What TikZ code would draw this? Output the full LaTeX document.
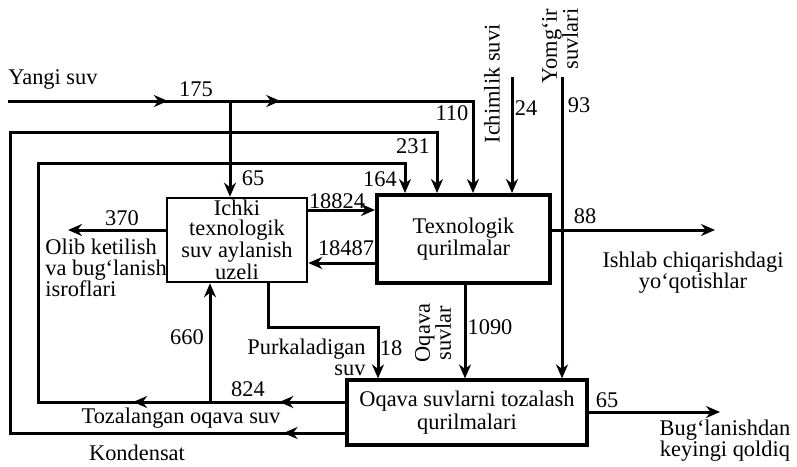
\documentclass[tikz,border=0pt]{standalone}
\usepackage{fontspec}
\setmainfont{Liberation Serif}
\usetikzlibrary{arrows.meta,decorations.markings}

\begin{document}
\begin{tikzpicture}[x=0.5pt,y=-0.5pt,
  b/.style={draw,line width=1.3pt,align=center,inner sep=0pt,font=\fontsize{11.2}{9.8}\selectfont},
  t/.style={inner sep=0pt,font=\fontsize{11.2}{10.5}\selectfont},
  ln/.style={line width=1.5pt},
  arr/.style={-{Stealth[length=7pt,width=6pt]},line width=1.5pt},
  mid/.style={postaction={decorate,decoration={markings,mark=at position #1 with {\arrow{Stealth[length=7pt,width=6pt]}}}}}
]
\useasboundingbox (0,0) rectangle (797,466);
\node[b,minimum width=70pt,minimum height=42pt] (ichki) at (237,240) {Ichki\\texnologik\\suv aylanish\\uzeli};
\node[b,line width=2pt,minimum width=86.5pt,minimum height=44pt] (texn) at (463.5,239) {Texnologik\\qurilmalar};
\node[b,line width=1.6pt,minimum width=120pt,minimum height=32.5pt] (oqava) at (467,412.5) {Oqava suvlarni tozalash\\qurilmalari};
\coordinate (ys) at (8,101);\coordinate (j175) at (230,101);\coordinate (c110) at (473,101);
\coordinate (k1) at (10,433);\coordinate (k2) at (10,132);\coordinate (k3) at (437,132);
\coordinate (t1) at (38,402);\coordinate (t2) at (38,163);\coordinate (t3) at (405,163);
\coordinate (c660) at (210,402);\coordinate (p1) at (268,327);\coordinate (p2) at (378,327);
\coordinate (c1090) at (465,330);\coordinate (rain) at (562,77);\coordinate (drink) at (512,77);
\coordinate (e1) at (0,210);\coordinate (e2) at (0,263);
\coordinate (out370) at (68,230);\coordinate (out88) at (715,230);\coordinate (out65) at (720,412);
\draw[ln,mid=0.72] (ys) -- (j175);
\draw[arr,mid=0.15] (j175) -- (c110) -- (c110 |- texn.north);
\draw[arr] (j175) -- (j175 |- ichki.north);
\draw[arr,mid=0.055] (oqava.west |- k1) -- (k1) -- (k2) -- (k3) -- (k3 |- texn.north);
\draw[arr,mid=0.07,mid=0.225] (oqava.west |- t1) -- (t1) -- (t2) -- (t3) -- (t3 |- texn.north);
\draw[arr] (c660) -- (c660 |- ichki.south);
\draw[arr] (ichki.south -| p1) -- (p1) -- (p2) -- (p2 |- oqava.north);
\draw[arr] (texn.south -| c1090) -- (c1090 |- oqava.north);
\draw[arr] (rain) -- (rain |- oqava.north);
\draw[arr] (drink) -- (drink |- texn.north);
\draw[arr] (ichki.east |- e1) -- (texn.west |- e1);
\draw[arr] (texn.west |- e2) -- (ichki.east |- e2);
\draw[arr] (ichki.west |- out370) -- (out370);
\draw[arr] (texn.east |- out88) -- (out88);
\draw[arr] (oqava.east |- out65) -- (out65);
\node[t,anchor=west] (lys) at (8,80) {Yangi suv};
\node[t] (l175) at (196,89) {175};
\node[t] (l65a) at (253,178) {65};
\node[t] (l370) at (122,218) {370};
\node[t,align=left,anchor=north west] (lolib) at (45,239) {Olib ketilish\\va bug‘lanish\\isroflari};
\node[t] (l18824) at (337,201) {18824};
\node[t] (l18487) at (346,248) {18487};
\node[t] (l164) at (380,179) {164};
\node[t] (l231) at (413,146) {231};
\node[t] (l110) at (452,113) {110};
\node[t,rotate=90] (ldrink) at (492,84) {Ichimlik suvi};
\node[t] (l24) at (526,108) {24};
\node[t,rotate=90,align=right] (lrain) at (560,46) {Yomg‘ir\\suvlari};
\node[t] (l93) at (579,105) {93};
\node[t] (l88) at (585,216) {88};
\node[t,align=center] (lloss) at (693,273) {Ishlab chiqarishdagi\\yo‘qotishlar};
\node[t] (l660) at (187,337) {660};
\node[t,align=right,anchor=east] (lpurk) at (366,357) {Purkaladigan\\suv};
\node[t] (l18) at (391,348) {18};
\node[t,rotate=90,align=center] (lwaste) at (433,333) {Oqava\\suvlar};
\node[t] (l1090) at (490,327) {1090};
\node[t] (l824) at (248,389) {824};
\node[t] (ltoz) at (181,418) {Tozalangan oqava suv};
\node[t] (lkond) at (137,453) {Kondensat};
\node[t] (l65b) at (607,400) {65};
\node[t,align=center] (lbug) at (725,441) {Bug‘lanishdan\\keyingi qoldiq};
\end{tikzpicture}
\end{document}
